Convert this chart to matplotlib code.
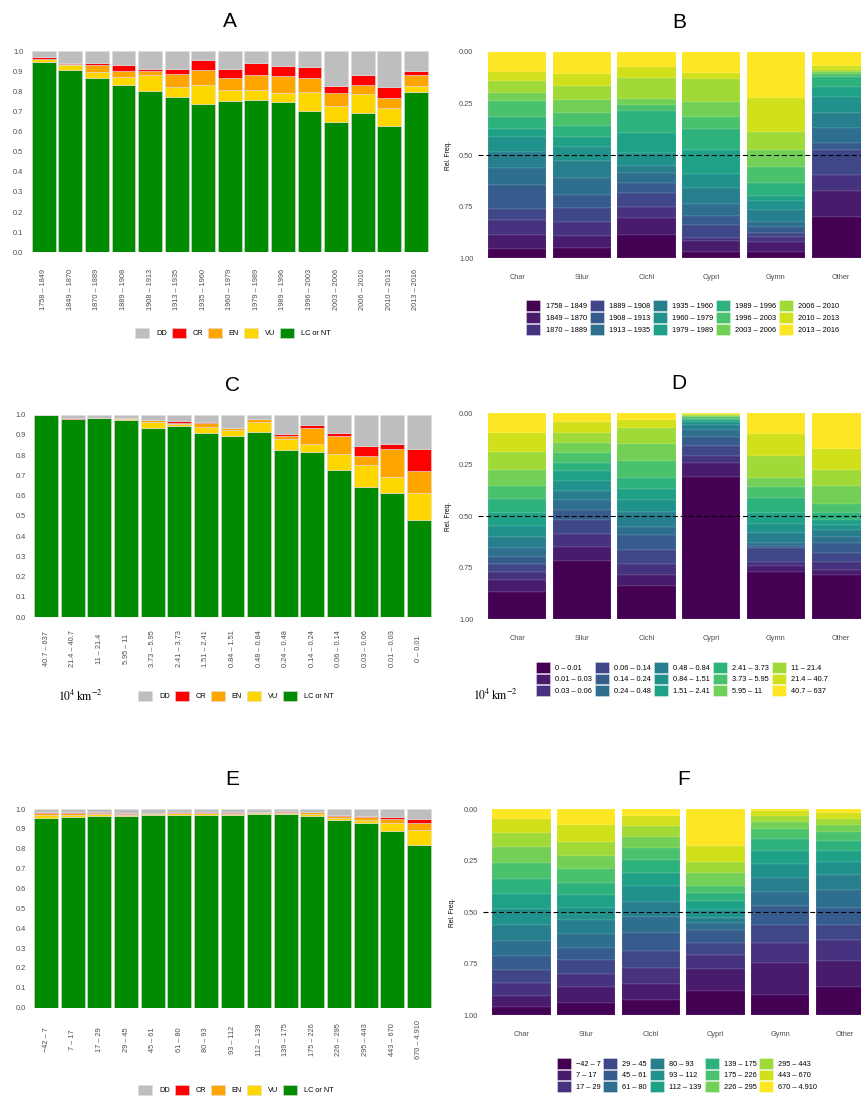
import numpy as np
import matplotlib
matplotlib.use("Agg")
from matplotlib import pyplot as plt
from matplotlib.patches import Patch

plt.rcParams["font.family"] = ["Liberation Sans", "DejaVu Sans"]
plt.rcParams["mathtext.fontset"] = "stix"

W, H = 861, 1098

# IUCN status shares (left column), order LC/NT, VU, EN, CR, DD
status = ["LC or NT", "VU", "EN", "CR", "DD"]
status_colors = {"LC or NT": "#008B00", "VU": "#FFD700", "EN": "#FFA500",
                 "CR": "#FF0000", "DD": "#BEBEBE"}

year_bins = ["1758 – 1849", "1849 – 1870", "1870 – 1889", "1889 – 1908", "1908 – 1913",
             "1913 – 1935", "1935 – 1960", "1960 – 1979", "1979 – 1989", "1989 – 1996",
             "1996 – 2003", "2003 – 2006", "2006 – 2010", "2010 – 2013", "2013 – 2016"]
area_bins = ["40.7 – 637", "21.4 – 40.7", "11 – 21.4", "5.95 – 11", "3.73 – 5.95",
             "2.41 – 3.73", "1.51 – 2.41", "0.84 – 1.51", "0.48 – 0.84", "0.24 – 0.48",
             "0.14 – 0.24", "0.06 – 0.14", "0.03 – 0.06", "0.01 – 0.03", "0 – 0.01"]
elev_bins = ["\u221242 – 7", "7 – 17", "17 – 29", "29 – 45", "45 – 61", "61 – 80", "80 – 93",
             "93 – 112", "112 – 139", "139 – 175", "175 – 226", "226 – 295", "295 – 443",
             "443 – 670", "670 – 4.910"]
groups = ["Char", "Silur", "Cichl", "Cypri", "Gymn", "Other"]

a_lc = [.944, .907, .868, .831, .800, .770, .735, .753, .757, .745, .704, .647, .690, .626, .796]
a_vu = [.015, .022, .029, .040, .082, .051, .096, .053, .049, .048, .091, .081, .098, .091, .030]
a_en = [.003, .005, .033, .028, .020, .065, .076, .058, .075, .084, .073, .065, .045, .051, .055]
a_cr = [.008, .005, .012, .030, .007, .023, .050, .045, .059, .047, .054, .035, .049, .053, .018]
a_dd = [.030, .061, .058, .071, .091, .091, .043, .091, .060, .076, .078, .172, .118, .179, .101]

c_lc = [.997, .977, .985, .972, .936, .946, .908, .895, .914, .825, .814, .727, .641, .613, .478]
c_vu = [0, 0, 0, .008, .028, .006, .031, .029, .048, .055, .041, .079, .110, .081, .136]
c_en = [0, 0, 0, .004, .011, .008, .018, .010, .015, .016, .079, .090, .045, .136, .108]
c_cr = [0, .005, 0, 0, 0, .007, .008, 0, 0, .008, .017, .012, .047, .023, .107]
c_dd = [.003, .018, .015, .016, .025, .033, .035, .066, .023, .096, .049, .092, .157, .147, .171]

e_lc = [.953, .958, .965, .963, .970, .970, .971, .968, .973, .973, .965, .943, .931, .891, .817]
e_vu = [.017, .012, .008, .008, .005, .008, .007, .009, .008, .007, .012, .013, .012, .039, .077]
e_en = [.008, .008, .007, .004, .003, .004, .004, .005, .004, .007, .006, .009, .015, .020, .037]
e_cr = [.007, .005, .005, .007, .004, .001, .003, .001, .002, .001, .004, .005, .006, .008, .017]
e_dd = [.015, .017, .015, .018, .018, .017, .015, .017, .013, .012, .013, .030, .036, .042, .052]

# relative frequency of bins per group (right column), lowest bin first
b_freq = [
    [.047, .066, .072, .054, .116, .080, .081, .071, .039, .056, .079, .039, .058, .042, .100],  # Char
    [.050, .058, .069, .068, .061, .084, .083, .064, .048, .055, .063, .063, .069, .059, .106],  # Silur
    [.113, .082, .052, .071, .045, .048, .036, .061, .097, .108, .029, .029, .102, .054, .073],  # Cichl
    [.029, .055, .016, .061, .045, .057, .079, .064, .118, .102, .059, .073, .110, .027, .105],  # Cypri
    [.029, .052, .024, .019, .029, .024, .057, .043, .025, .061, .081, .080, .089, .161, .226],  # Gymn
    [.202, .125, .076, .121, .036, .072, .073, .074, .052, .048, .011, .010, .011, .020, .069],  # Other
]
d_freq = [
    [.134, .057, .038, .039, .036, .043, .054, .053, .060, .068, .066, .076, .089, .092, .095],
    [.283, .069, .060, .069, .049, .048, .046, .046, .051, .038, .046, .050, .046, .055, .044],
    [.162, .053, .052, .069, .073, .040, .073, .056, .054, .055, .080, .081, .081, .037, .034],
    [.688, .071, .034, .047, .042, .036, .024, .013, .009, .009, .006, .006, .005, .005, .005],
    [.231, .029, .019, .065, .013, .011, .049, .043, .054, .076, .053, .042, .105, .108, .102],
    [.215, .024, .040, .041, .052, .029, .032, .024, .024, .033, .043, .091, .076, .102, .174],
]
f_freq = [
    [.042, .053, .060, .065, .068, .074, .076, .076, .074, .074, .078, .076, .068, .068, .048],
    [.058, .081, .063, .065, .061, .066, .068, .058, .062, .059, .067, .063, .069, .081, .079],
    [.074, .078, .079, .082, .084, .078, .076, .076, .063, .063, .060, .053, .052, .048, .034],
    [.120, .105, .067, .060, .062, .032, .027, .038, .043, .039, .035, .062, .055, .077, .178],
    [.099, .153, .100, .086, .094, .064, .071, .065, .064, .059, .046, .038, .029, .022, .010],
    [.139, .126, .100, .073, .080, .089, .073, .065, .051, .051, .043, .032, .030, .027, .021],
]

TXT = "#4d4d4d"
FS = 5.3


def box(l, r, top, bot):
    return [l / W, 1 - bot / H, (r - l) / W, (bot - top) / H]


def clean(ax):
    for s in ax.spines.values():
        s.set_visible(False)
    ax.tick_params(length=0, labelsize=FS, labelcolor=TXT)


def status_panel(ax, labels, cols, title, xpad):
    data = np.array(cols, float)
    data = data / data.sum(axis=0)
    x = np.arange(1, len(labels) + 1)
    bottom = np.zeros(len(labels))
    for name, vals in zip(status, data):
        ax.bar(x, vals, 0.9, bottom=bottom, color=status_colors[name],
               edgecolor="#dcdcdc", linewidth=0.4)
        bottom += vals
    ax.set_xlim(0.4, len(labels) + 0.6)
    ax.set_ylim(0, 1)
    ax.set_yticks(np.arange(0, 1.01, 0.1))
    ax.set_yticklabels([f"{v:.1f}" for v in np.arange(0, 1.01, 0.1)])
    ax.set_xticks(x)
    ax.set_xticklabels(labels, rotation=90, va="center", ha="center")
    clean(ax)
    ax.tick_params(axis="x", pad=xpad)
    ax.tick_params(axis="y", pad=3.3)
    ax.set_title(title, fontsize=15, pad=17)


def status_legend(ax, cx, cy):
    handles = [Patch(facecolor=status_colors[s], edgecolor="#dcdcdc", linewidth=0.4)
               for s in ["DD", "CR", "EN", "VU", "LC or NT"]]
    ax.legend(handles, ["DD", "CR", "EN", "VU", "LC or NT"], ncol=5, loc="center",
              bbox_to_anchor=(cx / W, 1 - cy / H), bbox_transform=ax.figure.transFigure,
              frameon=False, fontsize=FS, handlelength=1.9, handleheight=1.9,
              handletextpad=0.9, columnspacing=0.7, borderpad=0)


def freq_panel(ax, freqs, labels, title, cx, cy):
    data = np.array(freqs, float)
    data = data / data.sum(axis=1, keepdims=True)
    colors = plt.cm.viridis(np.linspace(0, 1, 15))
    x = np.arange(1, len(groups) + 1)
    bottom = np.zeros(len(groups))
    for k in range(14, -1, -1):
        ax.bar(x, data[:, k], 0.9, bottom=bottom, color=colors[k],
               edgecolor=(1, 1, 1, 0.35), linewidth=0.25)
        bottom += data[:, k]
    ax.axhline(0.5, color="black", ls=(0, (4.5, 2.5)), lw=0.8)
    ax.set_xlim(0.4, len(groups) + 0.6)
    ax.set_ylim(1, 0)
    ax.set_yticks([0, 0.25, 0.5, 0.75, 1])
    ax.set_yticklabels(["0.00", "0.25", "0.50", "0.75", "1.00"])
    ax.set_xticks(x)
    ax.set_xticklabels(groups)
    clean(ax)
    ax.tick_params(axis="x", pad=11.5)
    ax.tick_params(axis="y", pad=3.6)
    ax.set_ylabel("Rel. Freq.", fontsize=4.8, color="black", labelpad=5)
    ax.set_title(title, fontsize=15, pad=17)
    handles = [Patch(facecolor=c, edgecolor=(1, 1, 1, 0.6), linewidth=0.4) for c in colors]
    ax.legend(handles, labels, ncol=5, loc="center",
              bbox_to_anchor=(cx / W, 1 - cy / H), bbox_transform=ax.figure.transFigure,
              frameon=False, fontsize=FS, handlelength=1.9, handleheight=1.9,
              handletextpad=0.7, columnspacing=0.4, labelspacing=0.13, borderpad=0)


fig = plt.figure(figsize=(W / 100, H / 100), dpi=100)

axA = fig.add_axes(box(27.9, 431.7, 51, 252.3))
status_panel(axA, year_bins, [a_lc, a_vu, a_en, a_cr, a_dd], "A", 27)
status_legend(axA, 233, 333)

axB = fig.add_axes(box(478.4, 879.5, 51.7, 258.3))
freq_panel(axB, b_freq, year_bins, "B", 683, 317.7)

axC = fig.add_axes(box(30.2, 434.8, 414.7, 617))
status_panel(axC, area_bins, [c_lc, c_vu, c_en, c_cr, c_dd], "C", 23)
status_legend(axC, 236, 696)
fig.text(80 / W, 1 - 696 / H, r"$\mathrm{10^{4}\,km^{-2}}$", fontsize=8.5,
         ha="center", va="center")

axD = fig.add_axes(box(478.4, 879.5, 413, 619.3))
freq_panel(axD, d_freq, area_bins[::-1], "D", 682, 679)
fig.text(495 / W, 1 - 695 / H, r"$\mathrm{10^{4}\,km^{-2}}$", fontsize=8.5,
         ha="center", va="center")

axE = fig.add_axes(box(30.2, 434.8, 809, 1007.7))
status_panel(axE, elev_bins, [e_lc, e_vu, e_en, e_cr, e_dd], "E", 23)
status_legend(axE, 236, 1090)

axF = fig.add_axes(box(482.7, 883.8, 809, 1015.3))
freq_panel(axF, f_freq, elev_bins, "F", 687, 1075)

fig.savefig("out.png", dpi=100)
